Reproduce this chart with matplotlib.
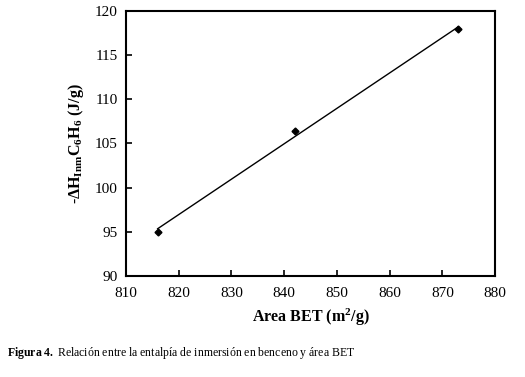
import numpy as np
import matplotlib
matplotlib.use("Agg")
import matplotlib.pyplot as plt

plt.rcParams["font.family"] = ["Liberation Serif", "DejaVu Serif"]
plt.rcParams["mathtext.fontset"] = "custom"
plt.rcParams["mathtext.rm"] = "Liberation Serif"
plt.rcParams["mathtext.it"] = "Liberation Serif:italic"
plt.rcParams["mathtext.bf"] = "Liberation Serif:bold"

# data
area_bet = [816, 842, 873]
dh_inm = [95.0, 106.4, 117.9]
x_ticks = [810, 820, 830, 840, 850, 860, 870, 880]
y_ticks = [90, 95, 100, 105, 110, 115, 120]

fig = plt.figure(figsize=(5.25, 3.77), dpi=100)
ax = fig.add_axes([0.24, 0.268, 0.703, 0.703])

# linear fit over the measured range
slope, intercept = np.polyfit(area_bet, dh_inm, 1)
fit_x = np.array([min(area_bet), max(area_bet)])
ax.plot(fit_x, slope * fit_x + intercept, color="black", lw=1.0)
ax.plot(area_bet, dh_inm, "D", color="black", ms=3.5)

ax.set_xlim(810, 880)
ax.set_ylim(90, 120)
ax.set_xticks(x_ticks)
ax.set_yticks(y_ticks)
ax.tick_params(direction="in", length=4, width=1.2, labelsize=11, pad=6)
ax.tick_params(axis="x", pad=8)
for s in ax.spines.values():
    s.set_linewidth(1.5)

ax.set_xlabel(r"Area BET (m$^{\mathbf{2}}$/g)", fontsize=11.5, fontweight="bold", labelpad=5)
ax.set_ylabel(r"-$\mathbf{\Delta H_{Inm}C_6H_6}$ (J/g)", fontsize=11.5, fontweight="bold", labelpad=6)

fig.text(0.013, 0.064, r"$\mathbf{Figura\ 4.}$ Relación entre la entalpía de inmersión en benceno y área BET",
         fontsize=8.5, ha="left", va="center")

fig.savefig("out.png", dpi=100)
